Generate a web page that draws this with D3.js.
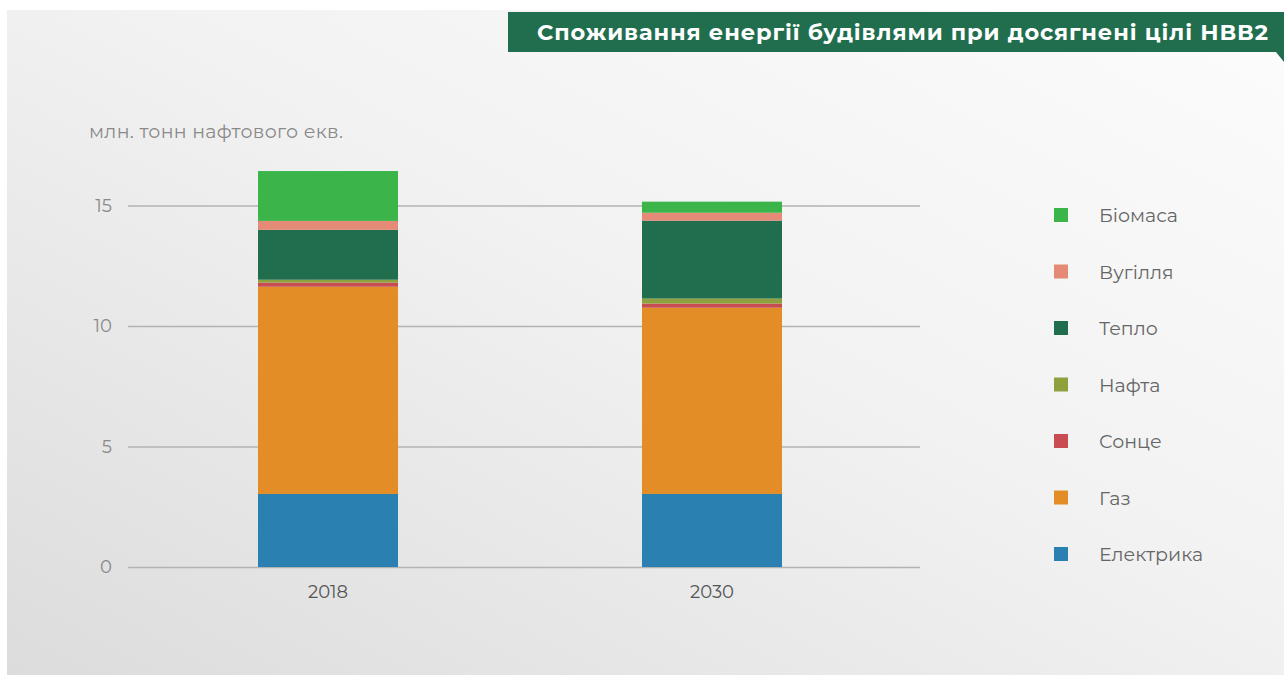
<!DOCTYPE html>
<html>
<head>
<meta charset="utf-8">
<script src="https://cdn.jsdelivr.net/npm/d3@7"></script>
<style>
  html, body { margin: 0; padding: 0; background: #fff; }
  svg { display: block; font-family: "Montserrat", "Open Sans", "Noto Sans", sans-serif; }
</style>
</head>
<body>
<div id="chart"></div>
<script>
"use strict";

var years = ["2018", "2030"];
var keys = ["Електрика", "Газ", "Сонце", "Нафта", "Тепло", "Вугілля", "Біомаса"];
var colors = ["#2980b1", "#e38d26", "#c84c52", "#8fa03e", "#216e4e", "#e48a76", "#3bb54a"];
var values2018 = [3.03, 8.6, 0.17, 0.12, 2.07, 0.37, 2.07];
var values2030 = [3.03, 7.73, 0.17, 0.21, 3.23, 0.33, 0.46];
var yTicks = [0, 5, 10, 15];
var title = "Споживання енергії будівлями при досягнені цілі НВВ2";
var unitLabel = "млн. тонн нафтового екв.";

var width = 1284;
var height = 677;

var rows = years.map(function(y, i) {
  var vals = i === 0 ? values2018 : values2030;
  var row = { year: y };
  keys.forEach(function(k, j) { row[k] = vals[j]; });
  return row;
});

var svg = d3.select("#chart").append("svg")
  .attr("width", width)
  .attr("height", height);

// background panel with soft gradient
var defs = svg.append("defs");
var grad = defs.append("linearGradient")
  .attr("id", "bg")
  .attr("x1", "0%").attr("y1", "100%")
  .attr("x2", "100%").attr("y2", "0%");
grad.append("stop").attr("offset", "0%").attr("stop-color", "#dcdcdc");
grad.append("stop").attr("offset", "55%").attr("stop-color", "#f2f2f2");
grad.append("stop").attr("offset", "100%").attr("stop-color", "#fcfcfc");

svg.append("rect")
  .attr("x", 7).attr("y", 10)
  .attr("width", width - 7).attr("height", 665)
  .attr("fill", "url(#bg)");

// title banner
svg.append("rect")
  .attr("x", 508).attr("y", 12)
  .attr("width", width - 508).attr("height", 40)
  .attr("fill", "#216e4e");
svg.append("path")
  .attr("d", "M1276,52L1284,52L1284,62Z")
  .attr("fill", "#216e4e");
svg.append("text")
  .attr("x", 537).attr("y", 39.5)
  .attr("fill", "#fff")
  .attr("font-size", 22.5)
  .attr("font-weight", "bold")
  .attr("textLength", 731)
  .attr("lengthAdjust", "spacing")
  .text(title);

var margin = { left: 128, right: 920, top: 205.5, bottom: 567 };

var x = d3.scaleBand()
  .domain(years)
  .range([124, 916])
  .paddingInner(0.6354)
  .paddingOuter(0.349);

var y = d3.scaleLinear()
  .domain([0, 15])
  .range([margin.bottom, margin.top]);

// grid
var grid = svg.append("g")
  .attr("transform", "translate(" + margin.left + ",0)")
  .call(d3.axisLeft(y).tickValues(yTicks).tickSize(-(margin.right - margin.left)).tickFormat(""));
grid.select(".domain").remove();
grid.selectAll("line").attr("stroke", "#b3b3b3").attr("stroke-width", 1.5);

// y tick labels
var yAxis = svg.append("g")
  .attr("transform", "translate(112,0)")
  .call(d3.axisLeft(y).tickValues(yTicks).tickSize(0).tickPadding(0));
yAxis.select(".domain").remove();
yAxis.selectAll("text")
  .attr("font-size", 18)
  .attr("fill", "#8a8a8a")
  .attr("font-family", "Montserrat, 'Open Sans', sans-serif");

svg.append("text")
  .attr("x", 89).attr("y", 138)
  .attr("font-size", 19)
  .attr("fill", "#8a8a8a")
  .attr("textLength", 254)
  .attr("lengthAdjust", "spacing")
  .text(unitLabel);

// stacked bars
var series = d3.stack().keys(keys)(rows);

svg.append("g")
  .selectAll("g")
  .data(series)
  .enter().append("g")
  .attr("fill", function(d, i) { return colors[i]; })
  .selectAll("rect")
  .data(function(d) { return d; })
  .enter().append("rect")
  .attr("x", function(d) { return x(d.data.year); })
  .attr("width", x.bandwidth())
  .attr("y", function(d) { return y(d[1]); })
  .attr("height", function(d) { return y(d[0]) - y(d[1]); });

// x labels
var xAxis = svg.append("g")
  .attr("transform", "translate(0," + margin.bottom + ")")
  .call(d3.axisBottom(x).tickSize(0).tickPadding(18));
xAxis.select(".domain").remove();
xAxis.selectAll("text")
  .attr("font-size", 18)
  .attr("fill", "#555")
  .attr("font-family", "Montserrat, 'Open Sans', sans-serif");

// legend, top to bottom reversed order
var legendKeys = keys.slice().reverse();
var ly = d3.scalePoint()
  .domain(legendKeys)
  .range([215, 554]);

var legend = svg.append("g")
  .selectAll("g")
  .data(legendKeys)
  .enter().append("g")
  .attr("transform", function(d) { return "translate(1054," + ly(d) + ")"; });

legend.append("rect")
  .attr("x", 0).attr("y", -7)
  .attr("width", 14).attr("height", 14)
  .attr("fill", function(d) { return colors[keys.indexOf(d)]; });

legend.append("text")
  .attr("x", 45).attr("y", 7)
  .attr("font-size", 19)
  .attr("fill", "#666")
  .text(function(d) { return d; });
</script>
</body>
</html>
